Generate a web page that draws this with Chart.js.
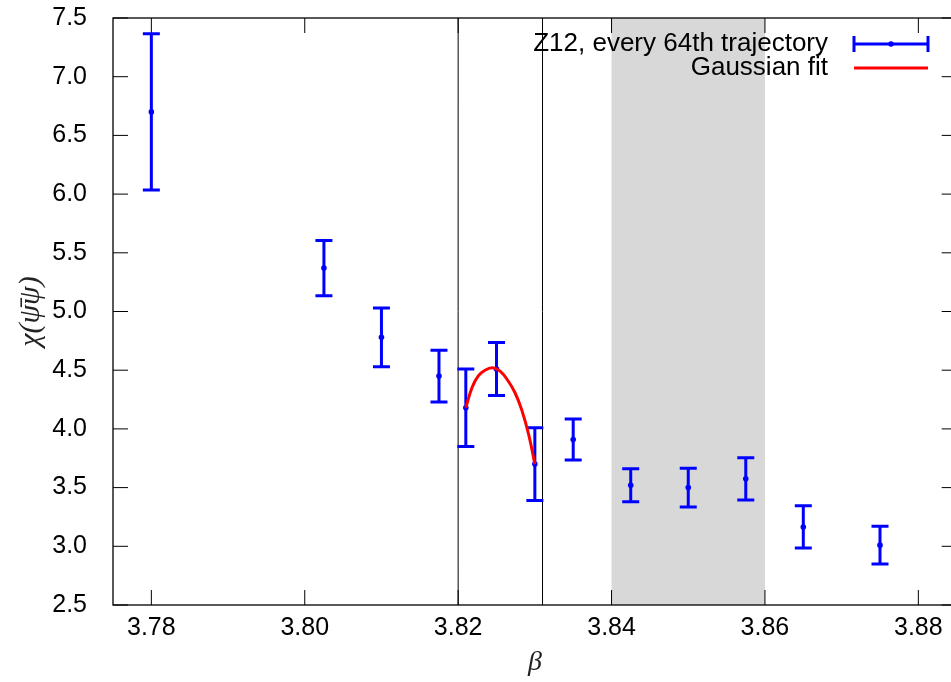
<!DOCTYPE html>
<html>
<head>
<meta charset="utf-8">
<script src="https://cdn.jsdelivr.net/npm/chart.js@4.4.1/dist/chart.umd.min.js"></script>
<style>
  html, body { margin: 0; padding: 0; overflow: hidden; background: #fff; }
  #wrap { width: 970px; height: 682px; }
</style>
</head>
<body>
<div id="wrap"><canvas id="c" width="970" height="682"></canvas></div>
<script>
// Susceptibility measurements (beta, value, symmetric error)
const betaValues = [3.78, 3.8025, 3.81, 3.8175, 3.821, 3.825, 3.83, 3.835, 3.8425, 3.85, 3.8575, 3.865, 3.875];
const chiValues  = [6.70, 5.37, 4.78, 4.45, 4.18, 4.51, 3.70, 3.91, 3.52, 3.50, 3.575, 3.165, 3.01];
const chiErrors  = [0.665, 0.235, 0.25, 0.22, 0.33, 0.225, 0.31, 0.175, 0.14, 0.165, 0.18, 0.18, 0.16];

// Gaussian fit curve, sampled over the fit window
const fitBeta = [3.8210, 3.8218, 3.8226, 3.8235, 3.8245, 3.8255, 3.8265, 3.8274, 3.8283, 3.8292, 3.8300];
const fitChi  = [4.18, 4.35, 4.45, 4.50, 4.52, 4.49, 4.41, 4.31, 4.16, 3.95, 3.70];

// Axis ticks
const xTicks = [3.78, 3.80, 3.82, 3.84, 3.86, 3.88];
const yTicks = [2.5, 3.0, 3.5, 4.0, 4.5, 5.0, 5.5, 6.0, 6.5, 7.0, 7.5];

// Fit window markers and shaded beta range
const fitWindow = [3.820, 3.831];
const shadedBand = [3.84, 3.86];

const seriesLabels = ['Z12, every 64th trajectory', 'Gaussian fit'];

const BLUE = '#0000ff';
const RED = '#ff0000';
const TICK_FONT = '"Liberation Sans", Arial, sans-serif';

const decorations = {
  id: 'decorations',
  beforeDraw(chart) {
    const { ctx, chartArea: a, scales: { x } } = chart;
    const x0 = x.getPixelForValue(shadedBand[0]);
    const x1 = x.getPixelForValue(shadedBand[1]);
    ctx.save();
    ctx.fillStyle = '#d8d8d8';
    ctx.fillRect(x0, a.top, x1 - x0, a.bottom - a.top);
    ctx.restore();
  },
  beforeDatasetsDraw(chart) {
    const { ctx, chartArea: a, scales: { x, y } } = chart;
    ctx.save();
    // frame
    ctx.strokeStyle = '#000';
    ctx.lineWidth = 1.3;
    ctx.strokeRect(a.left, a.top, a.right - a.left, a.bottom - a.top);
    // inward ticks on all four sides
    ctx.lineWidth = 1;
    ctx.beginPath();
    const tl = 15;
    xTicks.forEach(v => {
      const px = x.getPixelForValue(v);
      ctx.moveTo(px, a.bottom); ctx.lineTo(px, a.bottom - tl);
      ctx.moveTo(px, a.top); ctx.lineTo(px, a.top + tl);
    });
    yTicks.forEach(v => {
      const py = y.getPixelForValue(v);
      ctx.moveTo(a.left, py); ctx.lineTo(a.left + tl, py);
      ctx.moveTo(a.right, py); ctx.lineTo(a.right - tl, py);
    });
    ctx.stroke();
    // fit window markers
    ctx.beginPath();
    fitWindow.forEach(v => {
      const px = x.getPixelForValue(v);
      ctx.moveTo(px, a.top); ctx.lineTo(px, a.bottom);
    });
    ctx.stroke();
    // error bars
    ctx.strokeStyle = BLUE;
    ctx.lineWidth = 3;
    ctx.lineCap = 'butt';
    const cap = 8.5;
    betaValues.forEach((b, i) => {
      const px = x.getPixelForValue(b);
      const pTop = y.getPixelForValue(chiValues[i] + chiErrors[i]);
      const pBot = y.getPixelForValue(chiValues[i] - chiErrors[i]);
      ctx.beginPath();
      ctx.moveTo(px, pTop); ctx.lineTo(px, pBot);
      ctx.moveTo(px - cap, pTop); ctx.lineTo(px + cap, pTop);
      ctx.moveTo(px - cap, pBot); ctx.lineTo(px + cap, pBot);
      ctx.stroke();
    });
    ctx.restore();
  },
  afterDatasetsDraw(chart) {
    const { ctx } = chart;
    const labels = chart.data.datasets.map(d => d.label);
    ctx.save();
    ctx.font = '26px ' + TICK_FONT;
    ctx.fillStyle = '#000';
    ctx.textAlign = 'right';
    ctx.textBaseline = 'middle';
    const textRight = 828;
    const rows = [44, 68];
    ctx.fillText(labels[0], textRight, rows[0]);
    ctx.fillText(labels[1], textRight, rows[1]);
    const s0 = 854, s1 = 928;
    // error-bar sample
    ctx.strokeStyle = BLUE;
    ctx.lineWidth = 3;
    ctx.beginPath();
    ctx.moveTo(s0, rows[0]); ctx.lineTo(s1, rows[0]);
    ctx.moveTo(s0, rows[0] - 8); ctx.lineTo(s0, rows[0] + 8);
    ctx.moveTo(s1, rows[0] - 8); ctx.lineTo(s1, rows[0] + 8);
    ctx.stroke();
    ctx.fillStyle = BLUE;
    ctx.beginPath();
    ctx.arc((s0 + s1) / 2, rows[0], 2.8, 0, Math.PI * 2);
    ctx.fill();
    // fit sample
    ctx.strokeStyle = RED;
    ctx.beginPath();
    ctx.moveTo(s0, rows[1]); ctx.lineTo(s1, rows[1]);
    ctx.stroke();
    ctx.restore();
  }
};

new Chart(document.getElementById('c'), {
  data: {
    datasets: [
      {
        type: 'scatter',
        label: seriesLabels[0],
        data: betaValues.map((b, i) => ({ x: b, y: chiValues[i] })),
        pointRadius: 2.8,
        pointBackgroundColor: BLUE,
        pointBorderWidth: 0,
        order: 1
      },
      {
        type: 'line',
        label: seriesLabels[1],
        data: fitBeta.map((b, i) => ({ x: b, y: fitChi[i] })),
        borderColor: RED,
        borderWidth: 3,
        pointRadius: 0,
        tension: 0.4,
        fill: false,
        order: 0
      }
    ]
  },
  options: {
    responsive: false,
    animation: false,
    devicePixelRatio: 1,
    layout: { padding: { top: 18, right: 13.3, left: 0, bottom: 0 } },
    plugins: { legend: { display: false }, tooltip: { enabled: false } },
    scales: {
      x: {
        type: 'linear',
        position: 'bottom',
        min: 3.775,
        max: 3.885,
        afterBuildTicks(s) { s.ticks = xTicks.map(v => ({ value: v })); },
        afterFit(s) { s.height = 77; s.paddingLeft = 0; s.paddingRight = 0; },
        grid: { display: false, drawTicks: false },
        border: { display: false },
        ticks: {
          padding: 8,
          color: '#000',
          maxRotation: 0,
          font: { family: TICK_FONT, size: 25 },
          callback: v => Number(v).toFixed(2)
        },
        title: {
          display: true,
          text: 'β',
          color: '#222',
          padding: { top: 0, bottom: 3 },
          font: { family: '"Liberation Serif", serif', size: 28, style: 'italic' }
        }
      },
      y: {
        type: 'linear',
        position: 'left',
        min: 2.5,
        max: 7.5,
        afterBuildTicks(s) { s.ticks = yTicks.map(v => ({ value: v })); },
        afterFit(s) { s.width = 113; s.paddingTop = 0; s.paddingBottom = 0; },
        grid: { display: false, drawTicks: false },
        border: { display: false },
        ticks: {
          padding: 26,
          color: '#000',
          font: { family: TICK_FONT, size: 25 },
          callback: v => Number(v).toFixed(1)
        },
        title: {
          display: true,
          text: 'χ(ψ\u0304ψ)',
          color: '#222',
          padding: { top: 13, bottom: 0 },
          font: { family: '"Liberation Serif", serif', size: 30, style: 'italic' }
        }
      }
    }
  },
  plugins: [decorations]
});
</script>
</body>
</html>
